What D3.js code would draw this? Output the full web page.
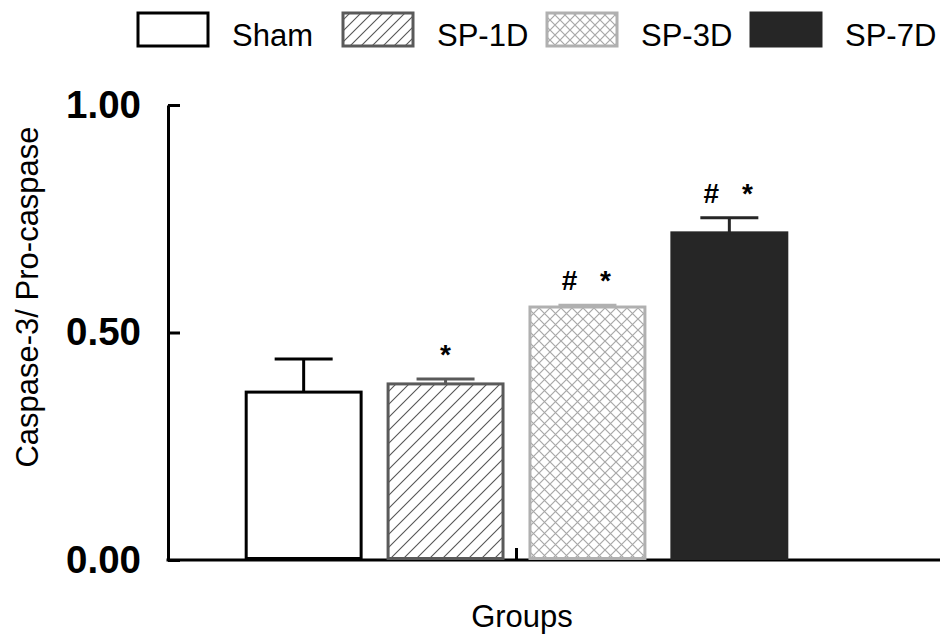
<!DOCTYPE html>
<html>
<head>
<meta charset="utf-8">
<script src="https://cdn.jsdelivr.net/npm/d3@7"></script>
<style>
  html, body { margin: 0; padding: 0; background: #fff; }
  svg { display: block; font-family: "Liberation Sans", Arial, sans-serif; }
</style>
</head>
<body>
<svg id="chart" width="941" height="637"></svg>
<script>
// ---- data ----
const groups = ["Sham", "SP-1D", "SP-3D", "SP-7D"];
const means = [0.369, 0.387, 0.556, 0.719];
const errors = [0.073, 0.011, 0.004, 0.033];
const marks = ["", "*", "# *", "# *"];
const yTicks = [0, 0.5, 1.0];
const yTickLabels = ["0.00", "0.50", "1.00"];
const yLabel = "Caspase-3/ Pro-caspase";
const xLabel = "Groups";

// ---- styles ----
const strokes = ["#000000", "#5a5a5a", "#b0b0b0", "#262626"];
const fills = ["#ffffff", "url(#hatch)", "url(#cross)", "#262626"];
const legendFills = ["#ffffff", "url(#hatchL)", "url(#crossL)", "#262626"];

const svg = d3.select("#chart");
const defs = svg.append("defs");

function hatch(id, size) {
  const p = defs.append("pattern").attr("id", id).attr("patternUnits", "userSpaceOnUse")
    .attr("width", size).attr("height", size);
  p.append("rect").attr("width", size).attr("height", size).attr("fill", "#fff");
  p.append("path").attr("d", `M0,${size} L${size},0 M${-size/2},${size/2} L${size/2},${-size/2} M${size/2},${size*1.5} L${size*1.5},${size/2}`)
    .attr("stroke", "#555").attr("stroke-width", 1.1);
}
function cross(id, size) {
  const p = defs.append("pattern").attr("id", id).attr("patternUnits", "userSpaceOnUse")
    .attr("width", size).attr("height", size);
  p.append("rect").attr("width", size).attr("height", size).attr("fill", "#fff");
  p.append("path").attr("d", `M0,0 L${size},${size} M0,${size} L${size},0`)
    .attr("stroke", "#a8a8a8").attr("stroke-width", 1.2);
}
hatch("hatch", 13);
cross("cross", 11);
hatch("hatchL", 11);
cross("crossL", 10);

const y = d3.scaleLinear().domain([0, 1]).range([560, 105]);
const x = d3.scaleBand().domain(groups).range([232, 801]).paddingInner(0.19).paddingOuter(0.1);
const bw = x.bandwidth();

// y axis
const yAxis = d3.axisLeft(y).tickValues(yTicks)
  .tickFormat((d, i) => yTickLabels[i])
  .tickSizeInner(-12).tickSizeOuter(0).tickPadding(27);
const gy = svg.append("g").attr("transform", "translate(168,0)").call(yAxis);
gy.select(".domain").attr("stroke", "#000").attr("stroke-width", 3);
gy.selectAll(".tick line").attr("stroke", "#000").attr("stroke-width", 3);
gy.selectAll(".tick text").attr("fill", "#000").attr("font-size", 38.5).attr("font-weight", "bold")
  .attr("font-family", "'Liberation Sans', Arial, sans-serif");

// x axis line
svg.append("line").attr("x1", 166.5).attr("x2", 940).attr("y1", y(0)).attr("y2", y(0))
  .attr("stroke", "#000").attr("stroke-width", 3);
// center tick
const midX = (x(groups[1]) + bw + x(groups[2])) / 2;
svg.append("line").attr("x1", midX).attr("x2", midX).attr("y1", y(0)).attr("y2", y(0) - 12)
  .attr("stroke", "#000").attr("stroke-width", 3);

// bars
const bars = svg.append("g");
groups.forEach((g, i) => {
  const cx = x(g) + bw / 2;
  // error bar
  bars.append("line").attr("x1", cx).attr("x2", cx).attr("y1", y(means[i])).attr("y2", y(means[i] + errors[i]))
    .attr("stroke", strokes[i]).attr("stroke-width", 3);
  bars.append("line").attr("x1", cx - 29).attr("x2", cx + 29)
    .attr("y1", y(means[i] + errors[i])).attr("y2", y(means[i] + errors[i]))
    .attr("stroke", strokes[i]).attr("stroke-width", 3);
  bars.append("rect").attr("x", x(g)).attr("y", y(means[i]))
    .attr("width", bw).attr("height", y(0) - y(means[i]) - 1.5)
    .attr("fill", fills[i]).attr("stroke", strokes[i]).attr("stroke-width", 3);
  // significance marks
  const parts = marks[i].split(" ").filter(s => s);
  const by = y(means[i] + errors[i]) - 15;
  if (parts.length === 1) {
    svg.append("text").attr("x", cx).attr("y", by).attr("text-anchor", "middle")
      .attr("font-size", 28).attr("font-weight", "bold").text(parts[0]);
  } else if (parts.length === 2) {
    svg.append("text").attr("x", cx - 18).attr("y", by).attr("text-anchor", "middle")
      .attr("font-size", 28).attr("font-weight", "bold").text(parts[0]);
    svg.append("text").attr("x", cx + 18).attr("y", by).attr("text-anchor", "middle")
      .attr("font-size", 28).attr("font-weight", "bold").text(parts[1]);
  }
});

// axis labels
svg.append("text").attr("transform", `translate(38,297) rotate(-90)`).attr("text-anchor", "middle")
  .attr("font-size", 31).attr("fill", "#000").text(yLabel);
svg.append("text").attr("x", 522).attr("y", 627).attr("text-anchor", "middle")
  .attr("font-size", 31).attr("fill", "#000").text(xLabel);

// legend
const legendBoxX = [138, 343, 547, 751];
const legend = svg.append("g");
groups.forEach((g, i) => {
  legend.append("rect").attr("x", legendBoxX[i]).attr("y", 13).attr("width", 70).attr("height", 33)
    .attr("fill", legendFills[i]).attr("stroke", strokes[i]).attr("stroke-width", 3);
  legend.append("text").attr("x", legendBoxX[i] + 94).attr("y", 46).attr("font-size", 31)
    .attr("fill", "#000").text(g);
});
</script>
</body>
</html>
